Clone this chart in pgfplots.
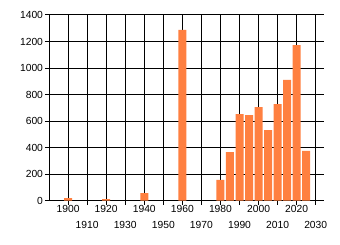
\documentclass[border=0pt]{standalone}
\usepackage{fontspec}
\setmainfont{Liberation Sans}
\usepackage{pgfplots}
\pgfplotsset{compat=1.18}
\definecolor{barc}{RGB}{255,128,64}
\begin{document}
\fontsize{10bp}{12bp}\selectfont
\begin{tikzpicture}
\path[use as bounding box] (0,0) rectangle (340bp,245bp);
\begin{axis}[
  at={(49bp,44.3bp)}, anchor=south west,
  scale only axis, width=275.3bp, height=185.7bp,
  xmin=1890, xmax=2034.5, ymin=0, ymax=1400,
  axis lines*=left,
  xtick={1900,1920,...,2020},
  extra x ticks={1910,1930,...,2030},
  xticklabel style={yshift=2.5bp},
  extra x tick style={grid=major, xticklabel style={yshift=-16bp}},
  yticklabel style={xshift=1.5bp},
  ytick={0,200,...,1400},
  /pgf/number format/1000 sep={},
  /pgf/number format/assume math mode=true,
  grid=major,
  major grid style={black, line width=1bp},
  axis line style={black, line width=1bp},
  tick style={black, line width=1bp},
  tick align=outside, major tick length=4bp,
  ticklabel style={font=\fontsize{10.3bp}{12bp}\selectfont},
  ybar, bar width=4.2,
]
\addplot[fill=barc, draw=none] coordinates {
(1900,20) (1920,12) (1940,58) (1960,1287) (1980,157) (1985,367) (1990,653)
(1995,646) (2000,706) (2005,533) (2010,729) (2015,910) (2020,1173) (2025,375)
};
\end{axis}
\end{tikzpicture}
\end{document}
